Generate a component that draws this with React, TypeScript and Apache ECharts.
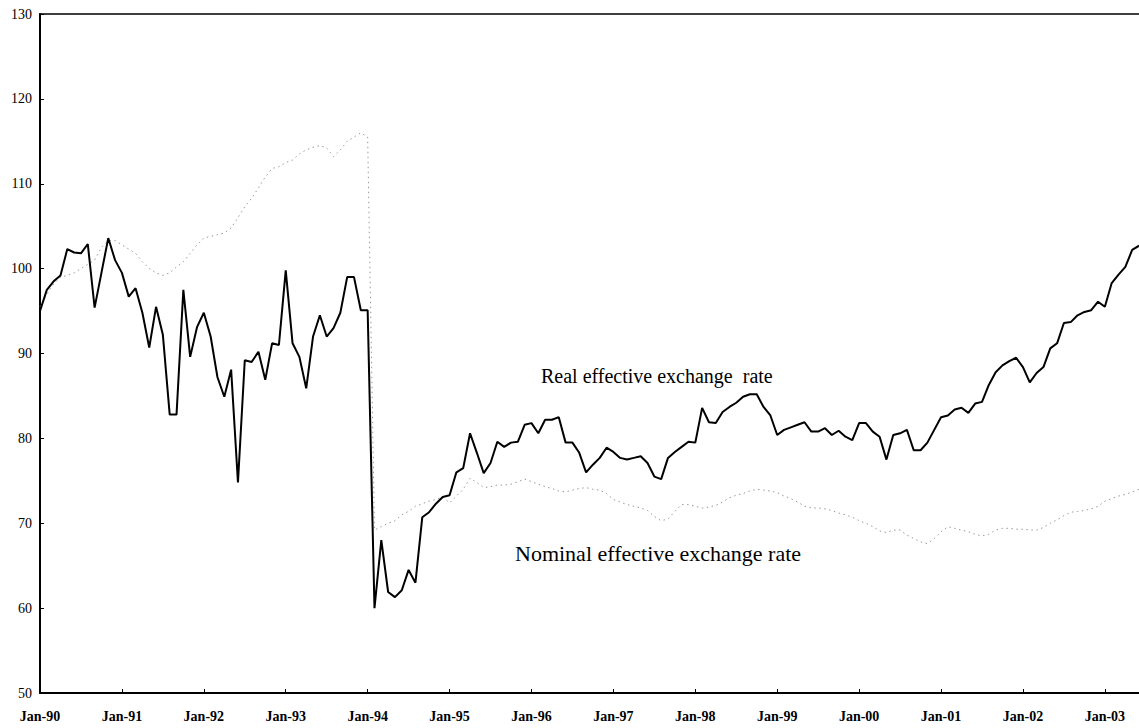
import React, { useEffect, useRef } from "react";
import * as echarts from "echarts";

const MONTHS = ["Jan", "Feb", "Mar", "Apr", "May", "Jun", "Jul", "Aug", "Sep", "Oct", "Nov", "Dec"];
const YEARS = ["90", "91", "92", "93", "94", "95", "96", "97", "98", "99", "00", "01", "02", "03"];
const CATEGORIES = YEARS.flatMap((y) => MONTHS.map((m) => `${m}-${y}`)).slice(0, 162);

const Y_MIN = 50;
const Y_MAX = 130;
const Y_STEP = 10;

// Real effective exchange rate (monthly, Jan-90 .. Jun-03)
const REAL = [
  95.0, 97.5, 98.5, 99.2, 102.3, 101.9, 101.8, 102.9, 95.4, 99.5, 103.6, 101.0,
  99.5, 96.7, 97.7, 94.8, 90.7, 95.5, 92.2, 82.8, 82.8, 97.5, 89.6, 93.1,
  94.8, 92.0, 87.2, 84.9, 88.1, 74.8, 89.2, 89.0, 90.2, 86.9, 91.2, 91.0,
  99.8, 91.2, 89.6, 85.9, 92.0, 94.5, 92.0, 93.0, 94.8, 99.0, 99.0, 95.1,
  95.1, 60.0, 68.0, 61.9, 61.3, 62.1, 64.5, 63.0, 70.7, 71.3, 72.3, 73.1,
  73.3, 76.0, 76.5, 80.6, 78.3, 75.9, 77.1, 79.6, 79.0, 79.5, 79.6, 81.6,
  81.8, 80.6, 82.2, 82.2, 82.5, 79.5, 79.5, 78.3, 76.0, 76.9, 77.7, 78.9,
  78.4, 77.7, 77.5, 77.7, 77.9, 77.1, 75.5, 75.2, 77.7, 78.4, 79.0, 79.6,
  79.5, 83.6, 81.9, 81.8, 83.1, 83.7, 84.2, 84.9, 85.2, 85.2, 83.7, 82.7,
  80.4, 81.0, 81.3, 81.6, 81.9, 80.8, 80.8, 81.2, 80.4, 80.9, 80.2, 79.8,
  81.8, 81.8, 80.8, 80.2, 77.5, 80.4, 80.6, 81.0, 78.6, 78.6, 79.5, 81.0,
  82.5, 82.7, 83.4, 83.6, 83.0, 84.1, 84.3, 86.3, 87.8, 88.6, 89.1, 89.5,
  88.4, 86.6, 87.7, 88.4, 90.6, 91.2, 93.6, 93.7, 94.5, 94.9, 95.1, 96.1,
  95.5, 98.3, 99.3, 100.2, 102.2, 102.7,
];

// Nominal effective exchange rate (monthly, Jan-90 .. Jun-03)
const NOMINAL = [
  95.5, 97.0, 98.2, 99.0, 99.2, 99.5, 100.0, 100.5, 101.0, 102.5, 103.3, 103.3,
  102.8, 102.3, 101.8, 100.8, 100.0, 99.5, 99.2, 99.5, 100.2, 100.8, 101.8, 102.8,
  103.6, 103.8, 104.0, 104.2, 104.8, 106.0, 107.3, 108.3, 109.5, 110.8, 111.8, 112.0,
  112.5, 112.8, 113.5, 114.0, 114.3, 114.5, 114.2, 113.2, 114.0, 115.0, 115.5, 116.0,
  115.5, 69.2, 69.6, 70.0, 70.3, 71.0, 71.4, 72.0, 72.3, 72.6, 72.8, 73.1,
  72.4, 73.2, 74.0, 75.3, 74.8, 74.2, 74.3, 74.5, 74.5, 74.6, 74.9, 75.2,
  74.9, 74.6, 74.3, 74.1, 73.8, 73.7, 73.9, 74.1, 74.2, 74.0, 73.9, 73.5,
  72.8, 72.5, 72.2, 72.0, 71.8, 71.5, 70.8, 70.3, 70.5, 71.4, 72.2, 72.2,
  72.0, 71.8, 71.9, 72.1, 72.5, 73.0, 73.3, 73.5, 73.8, 74.0, 73.9, 73.8,
  73.6, 73.2, 72.9, 72.5, 72.0, 71.8, 71.8, 71.7, 71.5, 71.2, 71.0, 70.7,
  70.3, 70.0, 69.6, 69.1, 68.9, 69.2, 69.2, 68.6, 68.2, 67.8, 67.6, 68.2,
  69.0, 69.6, 69.4, 69.2, 69.0, 68.7, 68.5, 68.7, 69.2, 69.4, 69.4, 69.3,
  69.3, 69.2, 69.2, 69.5, 70.0, 70.4, 70.9, 71.3, 71.4, 71.5, 71.7, 72.0,
  72.6, 72.9, 73.2, 73.4, 73.7, 74.0,
];

const LABEL_REAL = "Real effective exchange  rate";
const LABEL_NOMINAL = "Nominal effective exchange rate";

const SERIF = "'Liberation Serif', 'DejaVu Serif', serif";

export default function App() {
  const ref = useRef<HTMLDivElement>(null);

  useEffect(() => {
    document.body.style.margin = "0";
    if (!ref.current) return;
    const chart = echarts.init(ref.current, undefined, { renderer: "svg" });
    chart.setOption({
      animation: false,
      backgroundColor: "#ffffff",
      grid: { left: 40, right: 0, top: 14, bottom: 35, containLabel: false },
      xAxis: [
        {
          type: "category",
          data: CATEGORIES,
          boundaryGap: false,
          axisLine: { show: true, lineStyle: { color: "#000", width: 2 } },
          axisTick: { show: true, inside: true, length: 4, interval: 11, lineStyle: { color: "#000" } },
          axisLabel: {
            interval: 11,
            color: "#000",
            fontFamily: SERIF,
            fontSize: 14,
            fontWeight: "bold",
            margin: 16,
          },
          splitLine: { show: false },
        },
        {
          type: "category",
          position: "top",
          data: CATEGORIES,
          boundaryGap: false,
          axisLine: { show: true, lineStyle: { color: "#000", width: 1.5 } },
          axisTick: { show: false },
          axisLabel: { show: false },
          splitLine: { show: false },
        },
      ],
      yAxis: {
        type: "value",
        min: Y_MIN,
        max: Y_MAX,
        interval: Y_STEP,
        axisLine: { show: true, lineStyle: { color: "#000", width: 2 } },
        axisTick: { show: true, inside: true, length: 4, lineStyle: { color: "#000" } },
        axisLabel: { color: "#000", fontFamily: SERIF, fontSize: 14, margin: 8 },
        splitLine: { show: false },
      },
      series: [
        {
          name: "Real effective exchange rate",
          type: "line",
          data: REAL,
          symbol: "none",
          lineStyle: { color: "#000", width: 2 },
          z: 3,
        },
        {
          name: "Nominal effective exchange rate",
          type: "line",
          data: NOMINAL,
          symbol: "none",
          lineStyle: { color: "#999999", width: 1, type: [1.5, 3.5] },
          z: 2,
        },
      ],
      graphic: [
        {
          type: "text",
          left: 541,
          top: 366,
          style: { text: LABEL_REAL, fill: "#000", font: `20px ${SERIF}` },
        },
        {
          type: "text",
          left: 515,
          top: 542,
          style: { text: LABEL_NOMINAL, fill: "#000", font: `22px ${SERIF}` },
        },
      ],
    });
    return () => chart.dispose();
  }, []);

  return (
    <div
      ref={ref}
      style={{ position: "absolute", left: 0, top: 0, width: 1139, height: 728 }}
    />
  );
}
